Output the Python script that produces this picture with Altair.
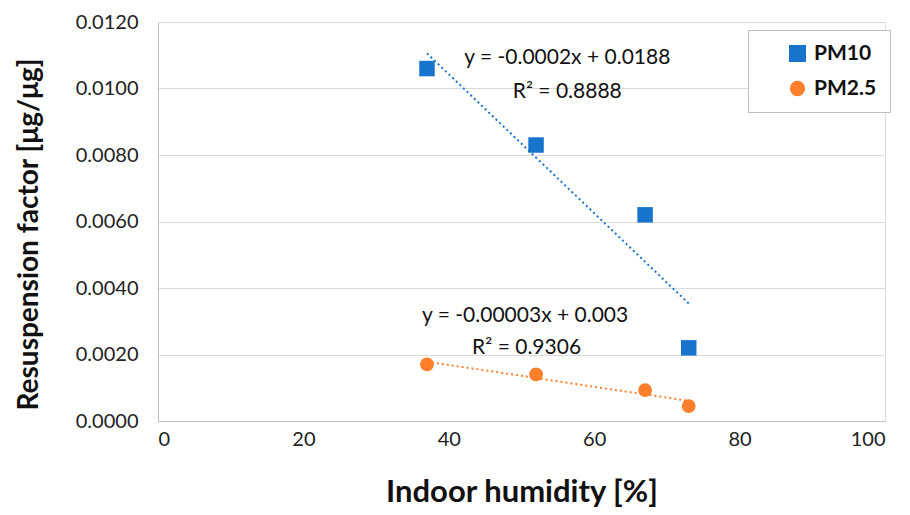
import altair as alt
import pandas as pd

humidity = [37, 52, 67, 73]
pm10 = [0.0106, 0.0083, 0.0062, 0.0022]
pm25 = [0.0017, 0.0014, 0.00093, 0.00045]
series = ["PM10", "PM2.5"]
colors = ["#1873CC", "#FF7F2A"]

ann_text = ["y = -0.0002x + 0.0188", "R² = 0.8888", "y = -0.00003x + 0.003", "R² = 0.9306"]
ann_x = [56.3, 56.3, 50.5, 50.7]
ann_y = [0.01092, 0.00988, 0.00316, 0.0022]

df = pd.DataFrame({
    "x": humidity * 2,
    "y": pm10 + pm25,
    "s": [series[0]] * 4 + [series[1]] * 4,
})
ann = pd.DataFrame({"x": ann_x, "y": ann_y, "t": ann_text})

FONT = "Lato"

xs = alt.Scale(domain=[0, 100], nice=False)
ys = alt.Scale(domain=[0, 0.012], nice=False)
cs = alt.Scale(domain=series, range=colors)

legend = alt.Legend(
    title=None, orient="none", legendX=590, legendY=8, fillColor="white",
    strokeColor="#bfbfbf", padding=13, rowPadding=12, symbolSize=170,
    labelFontSize=21, labelFontWeight="bold", labelFont=FONT, labelColor="#111",
    symbolOffset=26, labelOffset=6, symbolType="square")

base = alt.Chart(df)

pts = base.mark_point(filled=True, opacity=1).encode(
    x=alt.X("x:Q", scale=xs, axis=alt.Axis(
        title="Indoor humidity [%]", values=[0, 20, 40, 60, 80, 100], grid=False,
        ticks=False, domainColor="#bfbfbf", labelFontSize=20, labelColor="#222",
        labelPadding=8, titleFontSize=31, titleFontWeight="bold", titlePadding=28,
        labelFont=FONT, titleFont=FONT, titleColor="#111")),
    y=alt.Y("y:Q", scale=ys, axis=alt.Axis(
        title="Resuspension factor [μg/μg]", values=[0, 0.002, 0.004, 0.006, 0.008, 0.01, 0.012],
        format=".4f", grid=True, gridColor="#d9d9d9", ticks=False, domainColor="#bfbfbf",
        labelFontSize=20, labelColor="#222", labelPadding=20, titleFontSize=28,
        titleFontWeight="bold", titlePadding=32, titleY=212, labelFont=FONT, titleFont=FONT,
        titleColor="#111")),
    color=alt.Color("s:N", scale=cs, legend=legend),
    shape=alt.Shape("s:N", scale=alt.Scale(domain=series, range=["square", "circle"]), legend=legend),
    size=alt.Size("s:N", scale=alt.Scale(domain=series, range=[240, 190]), legend=None),
)

trend = base.transform_regression("x", "y", groupby=["s"]).mark_line(
    strokeDash=[2, 3], strokeWidth=2
).encode(
    x=alt.X("x:Q", scale=xs),
    y=alt.Y("y:Q", scale=ys),
    color=alt.Color("s:N", scale=cs, legend=legend),
)

txt = alt.Chart(ann).mark_text(fontSize=21, font=FONT, color="#111").encode(
    x=alt.X("x:Q", scale=xs),
    y=alt.Y("y:Q", scale=ys),
    text="t:N",
)

chart = alt.layer(trend, pts, txt).properties(
    width=727, height=399,
    padding={"left": 158, "top": 22, "right": 25, "bottom": 94},
    autosize=alt.AutoSizeParams(type="none"),
).configure_view(stroke=None).configure(background="white")

chart.save("out.html", embed_options={"renderer": "svg", "actions": False})
